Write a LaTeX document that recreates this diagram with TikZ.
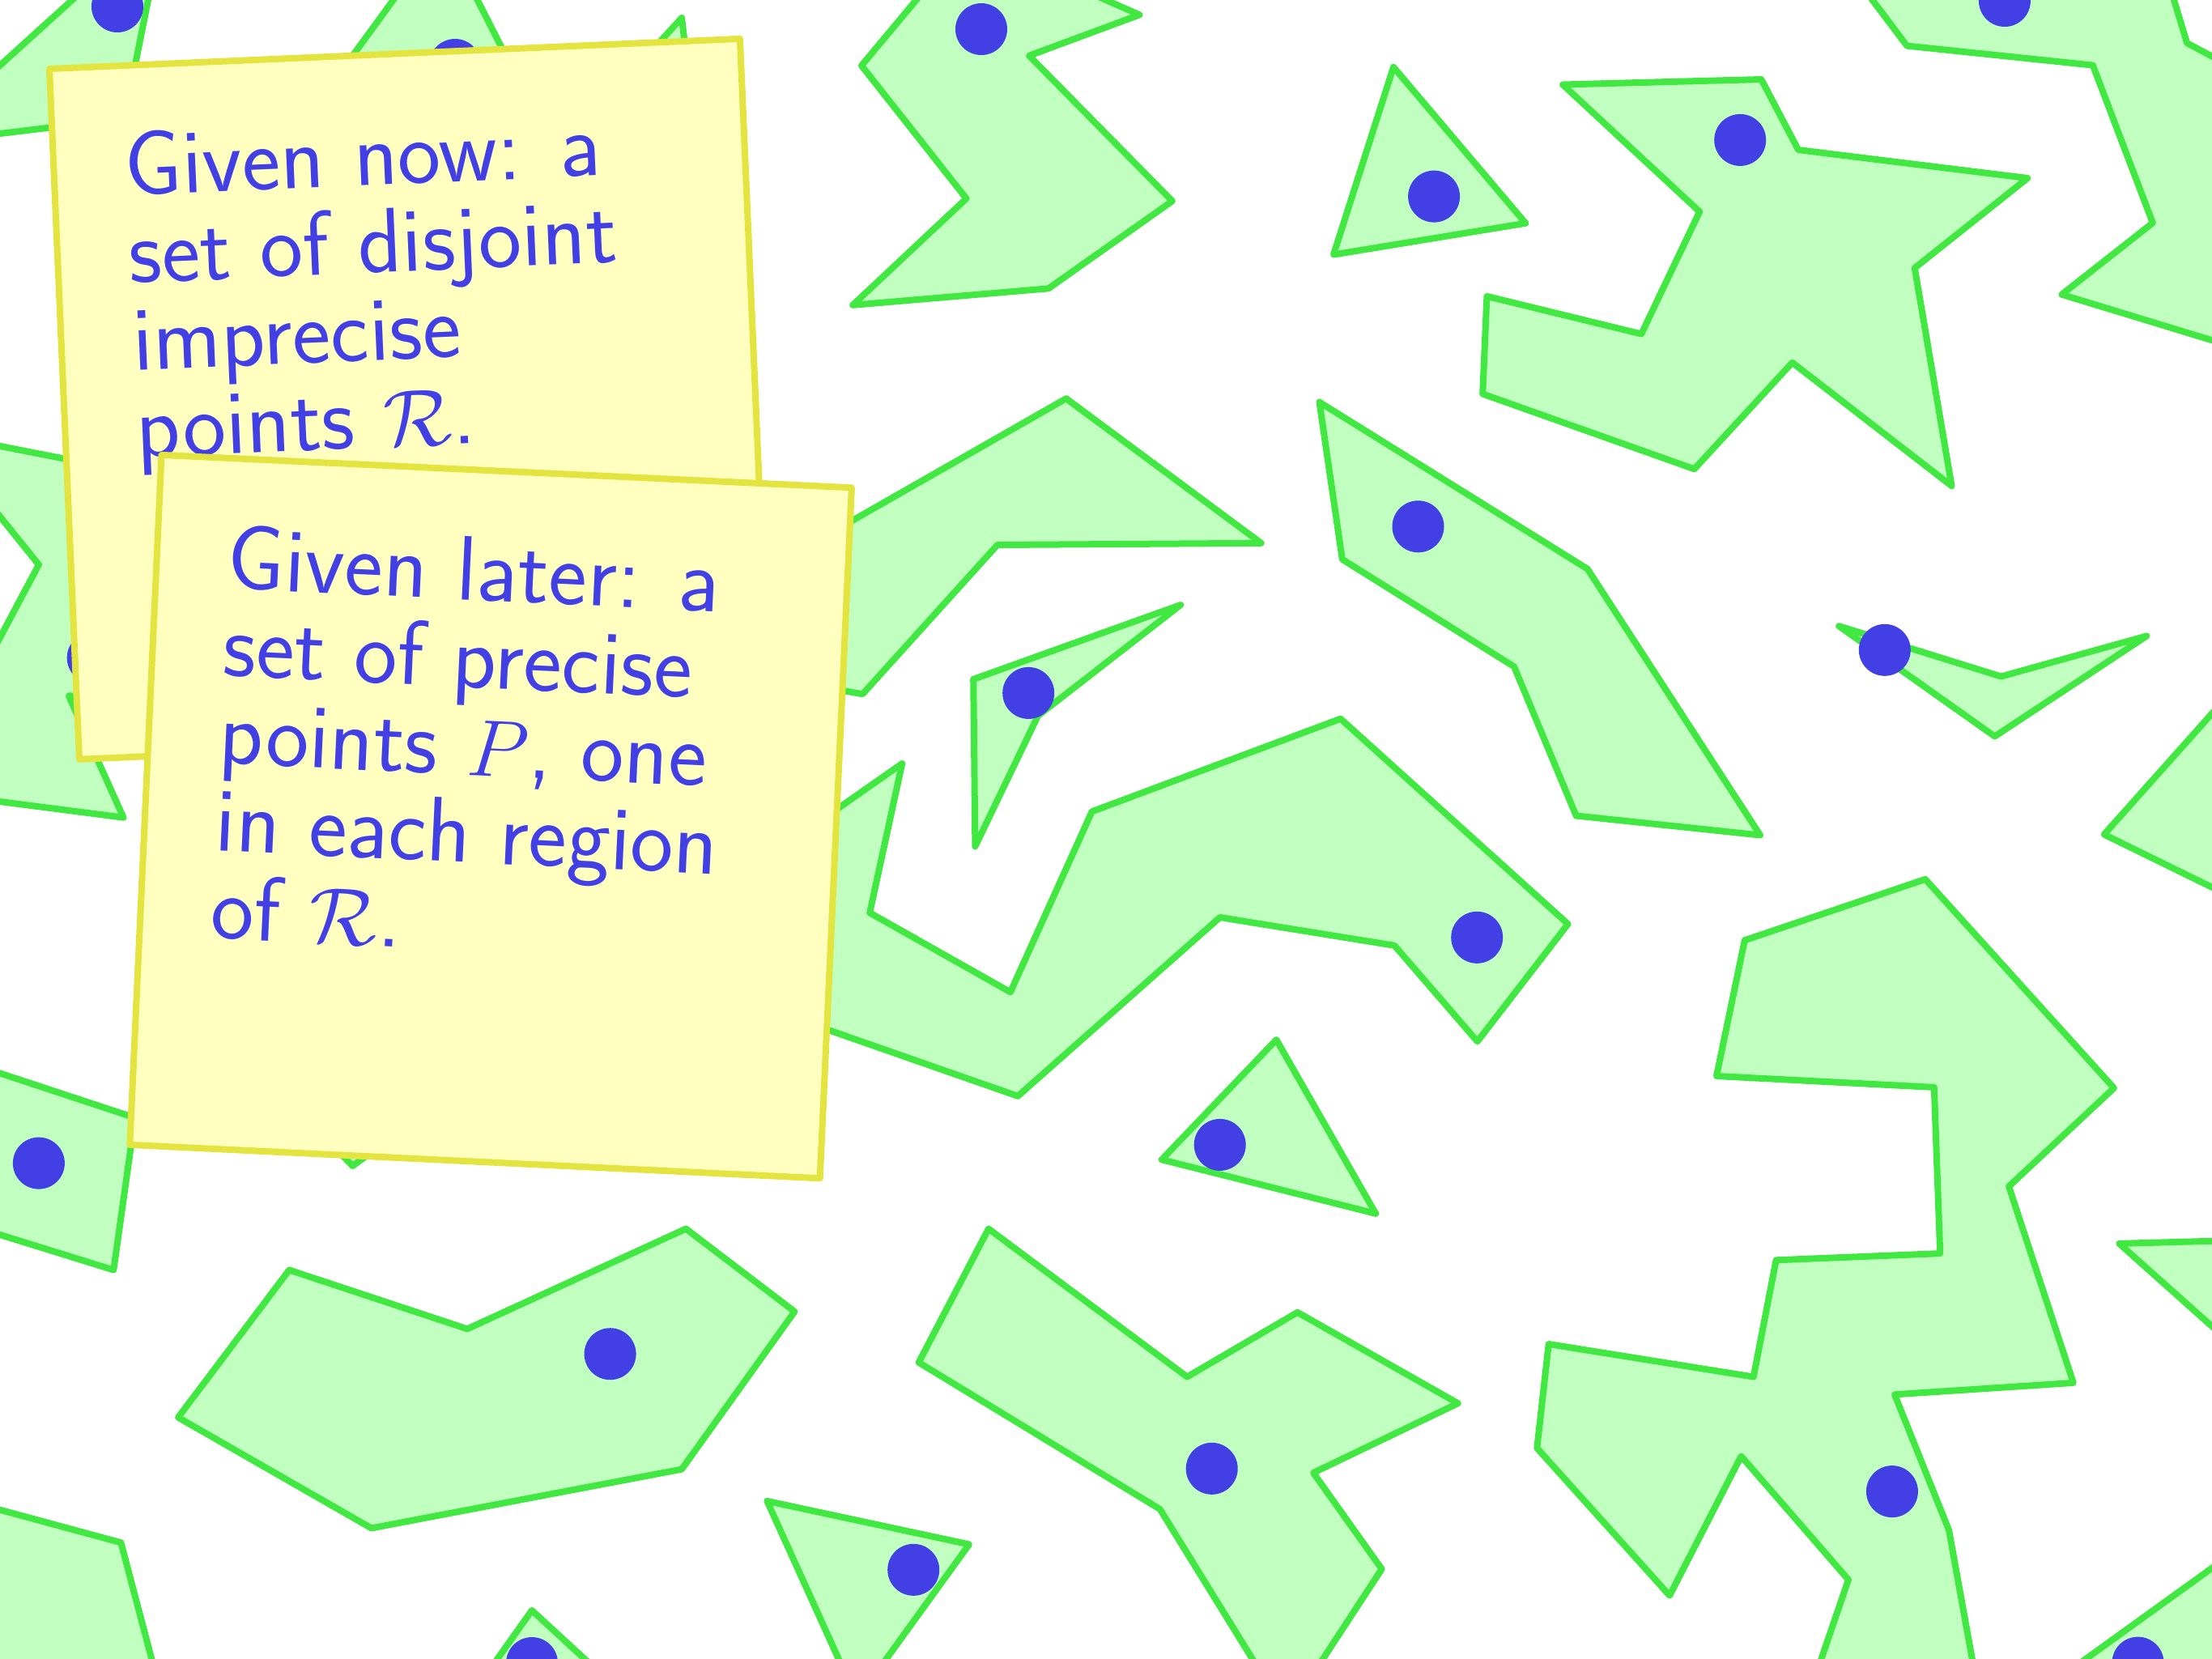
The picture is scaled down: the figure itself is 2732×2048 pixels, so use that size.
\documentclass[tikz,border=0pt]{standalone}
\definecolor{regfill}{RGB}{192,255,192}
\definecolor{regline}{RGB}{66,232,66}
\definecolor{ptblue}{RGB}{66,64,228}
\definecolor{notefill}{RGB}{255,255,192}
\definecolor{noteline}{RGB}{228,228,64}
\begin{document}
\begin{tikzpicture}[x=0.25pt,y=-0.25pt,
  region/.style={fill=regfill,draw=regline,line width=2pt,line join=round},
  pt/.style={fill=ptblue},
  note/.style={fill=notefill,draw=noteline,line width=2pt,line join=round},
  txt/.style={text=ptblue,font=\fontsize{28.3}{27}\selectfont\sffamily,inner sep=0pt,anchor=base west}]
\useasboundingbox (0,0) rectangle (2732,2048);
\begin{scope}
\clip (0,0) rectangle (2732,2048);
% regions
\draw[region] (-30,108) -- (120,-28) -- (189,-30) -- (157,130) -- (100,153) -- (0,165) -- (-30,168) -- cycle;
\draw[region] (420,90) -- (504,-25) -- (577,-25) -- (638,95) -- cycle;
\draw[region] (842,22) -- (849,80) -- (789,80) -- cycle;
\draw[region] (1150,-22) -- (1064,81) -- (1193.5,245.2) -- (1053.2,376.8) -- (1295,356.3) -- (1447.9,248.3) -- (1271,68.8) -- (1407.4,18.3) -- (1316,-22) -- cycle;
\draw[region] (1316.8,492.2) -- (1557.7,670.8) -- (1231.8,673) -- (1065.4,857.2) -- (1000,846) -- (1000,673) -- cycle;
\draw[region] (1202.2,838.9) -- (1458.3,747) -- (1282,884) -- (1204.4,1045.4) -- cycle;
\draw[region] (1114.2,943) -- (1074.2,1127.3) -- (1247.9,1225.3) -- (1348.6,1002.3) -- (1655.7,887.7) -- (1936.6,1141.2) -- (1824.7,1286.3) -- (1722.3,1167.8) -- (1506.7,1133) -- (1257.1,1353.8) -- (980,1257) -- (990,1030) -- cycle;
\draw[region] (1721,82.8) -- (1884.3,275.7) -- (1647,314.5) -- cycle;
\draw[region] (1930.1,104.5) -- (2175.3,98) -- (2221.1,185.1) -- (2504.2,220) -- (2364.8,331) -- (2410.5,600.2) -- (2213.6,447.8) -- (2092.6,579.3) -- (1831.2,486.5) -- (1836.4,365.9) -- (2027.2,412.5) -- (2099.1,261.4) -- cycle;
\draw[region] (2290,-30) -- (2676,-30) -- (2701.1,53.1) -- (2760,84.7) -- (2760,428.8) -- (2546.4,363.7) -- (2658.8,275.3) -- (2584.8,80.6) -- (2355.2,56.6) -- cycle;
\draw[region] (1629.5,496.6) -- (1960.6,702.6) -- (2174,1031.5) -- (1946.6,1007.5) -- (1870,823.3) -- (1657.8,690.8) -- cycle;
\draw[region] (2271.1,773.2) -- (2471.5,835.5) -- (2651.4,785.4) -- (2463.7,909.5) -- cycle;
\draw[region] (2598.7,1030.6) -- (2760,849.8) -- (2760,1109.6) -- cycle;
\draw[region] (2377.9,1085.9) -- (2610.9,1343.8) -- (2481.1,1465.3) -- (2560.8,1707.9) -- (2340,1722.3) -- (2407.1,1890) -- (2441.4,2080) -- (2238.8,2080) -- (2282.9,1951) -- (2150.5,1798.5) -- (2062.1,1970.6) -- (1898.3,1788.5) -- (1912.7,1660) -- (2165.7,1700.5) -- (2193.6,1556.3) -- (2396.2,1548.1) -- (2388.8,1342.9) -- (2120,1329) -- (2154.8,1161.3) -- cycle;
\draw[region] (1576.4,1284.1) -- (1699.2,1498.9) -- (1434.8,1432.2) -- cycle;
\draw[region] (1220.9,1517.6) -- (1466.2,1700.5) -- (1602.5,1620.8) -- (1800.7,1733.2) -- (1622.1,1819) -- (1706.6,1937.9) -- (1613.6,2080) -- (1566,2080) -- (1432.6,1863.9) -- (1134.7,1682.7) -- cycle;
\draw[region] (357.2,1568.5) -- (577.1,1641.3) -- (847.2,1517.6) -- (981.4,1619.9) -- (842,1814.6) -- (458.7,1887.4) -- (220,1750.6) -- cycle;
\draw[region] (-30,1315.6) -- (166.7,1380.5) -- (140.3,1568.5) -- (-30,1515.7) -- cycle;
\draw[region] (435.6,1440) -- (395,1399) -- (490,1400) -- cycle;
\draw[region] (-30,1856.6) -- (149.4,1905.2) -- (195.5,2080) -- (-30,2080) -- cycle;
\draw[region] (656.9,1988.9) -- (755.9,2080) -- (592.2,2080) -- cycle;
\draw[region] (947.4,1853.9) -- (1197,1907.4) -- (1072.2,2080) -- (1049.8,2080) -- cycle;
\draw[region] (2617.4,1535.9) -- (2760,1532) -- (2760,1663.2) -- cycle;
\draw[region] (2533,2080) -- (2760,1916.4) -- (2760,2080) -- cycle;
\draw[region] (-30,545.1) -- (78.4,566.3) -- (160,582) -- (160,861) -- (84.9,859.4) -- (152.5,1009.7) -- (-30,986.2) -- (-30,843.9) -- (47.9,697.4) -- (-30,600.8) -- cycle;
% points
\foreach \p in {(145,8),(562,80),(1212,36),(1270.2,855.9),(1824.2,1157.8),(1771.1,242.6),(2149.2,172.9),(2475.9,1),(1751.5,650.3),(2327.8,802.8),(2336.9,1842.1),(1506.7,1413.9),(1496.7,1813.8),(753.6,1672.2),(47.9,1436.6),(657,2054),(1128.2,1938.8),(2640.5,2053.6),(114.7,812.4)}
  \fill[pt] \p circle[radius=8pt];
% notes
\draw[note] (61,85) -- (913.9,47.9) -- (950.9,900.8) -- (98,937.8) -- cycle;
\node[txt,rotate=2.48] (n1) at (154.9,242.0) {Given now: a};
\node[txt,rotate=2.48] (n2) at (159.6,349.9) {set of disjoint};
\node[txt,rotate=2.48] (n3) at (164.2,457.8) {imprecise};
\node[txt,rotate=2.48] (n4) at (168.9,565.7) {points $\mathcal{R}$.};
\draw[note] (199.5,561.9) -- (1051.9,602.3) -- (1012.7,1455.3) -- (160.3,1413.9) -- cycle;
\node[txt,rotate=-2.68] (m1) at (279.0,726.9) {Given later: a};
\node[txt,rotate=-2.68] (m2) at (274.0,834.8) {set of precise};
\node[txt,rotate=-2.68] (m3) at (269.0,942.7) {points $P$, one};
\node[txt,rotate=-2.68] (m4) at (264.0,1050.6) {in each region};
\node[txt,rotate=-2.68] (m5) at (259.0,1158.5) {of $\mathcal{R}$.};
\end{scope}
\end{tikzpicture}
\end{document}
